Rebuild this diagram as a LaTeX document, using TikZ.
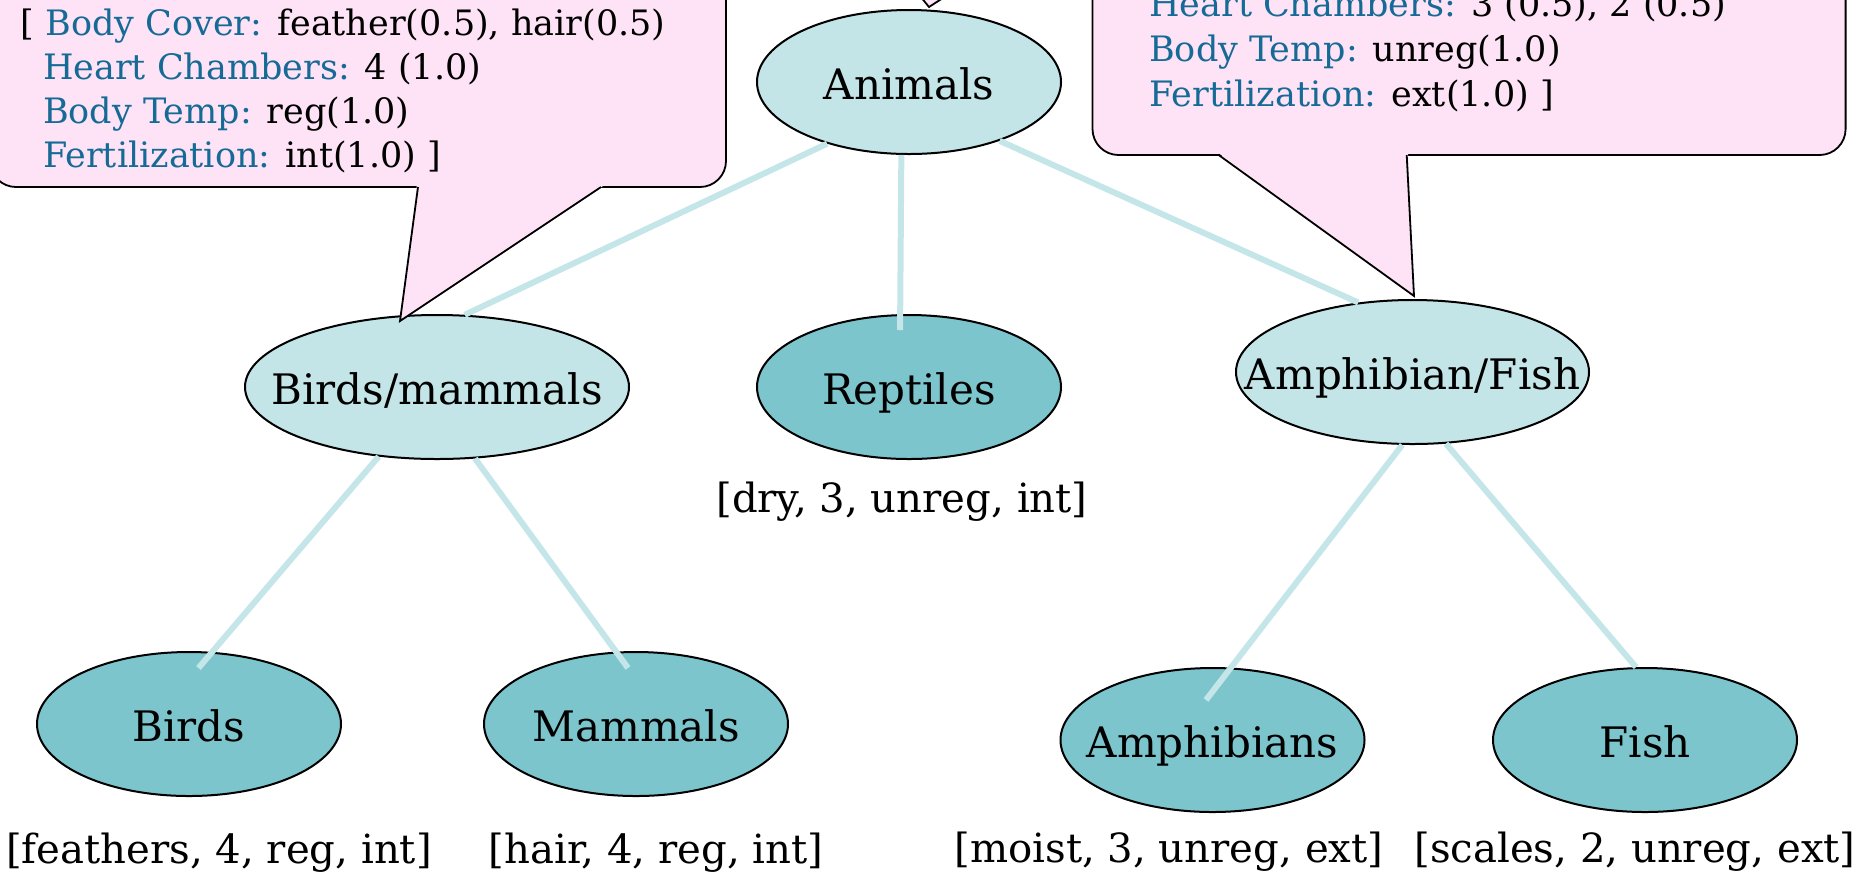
\documentclass[tikz,border=0pt]{standalone}
\usepackage{fontspec}
\setmainfont{DejaVu Serif}
\usetikzlibrary{shapes.geometric,calc}
\definecolor{nodelight}{RGB}{196,229,232}
\definecolor{nodedark}{RGB}{124,197,204}
\definecolor{edgecol}{RGB}{196,230,232}
\definecolor{calloutpink}{RGB}{253,227,245}
\definecolor{keyblue}{RGB}{22,106,150}
\newcommand{\keyt}[1]{\textcolor{keyblue}{#1}}
\begin{document}
\begin{tikzpicture}[x=0.5pt,y=-0.5pt,
  ellbase/.style={ellipse, draw=black, line width=1pt, inner sep=0pt, minimum height=72pt},
  innerell/.style={ellbase, fill=nodelight},
  leafell/.style={ellbase, fill=nodedark},
  nodetext/.style={anchor=base, inner sep=0pt, font=\fontsize{21}{25}\selectfont},
  attr/.style={anchor=base, inner sep=0pt, font=\fontsize{20.1}{24}\selectfont},
  ctext/.style={anchor=base west, inner sep=0pt, font=\fontsize{17.5}{21}\selectfont},
  edge/.style={draw=edgecol, line width=3pt},
  callout/.style={fill=calloutpink, draw=black, line width=0.9pt}
]
\useasboundingbox (0,0) rectangle (1862,875);
\clip (0,0) rectangle (1862,875);

% nodes
\node[innerell, minimum width=152pt] (anim) at (909,82) {};
\node[innerell, minimum width=192pt] (bm) at (437,387) {};
\node[leafell, minimum width=152pt] (rep) at (909,387) {};
\node[innerell, minimum width=176.5pt] (af) at (1412.5,372) {};
\node[leafell, minimum width=152pt] (birds) at (189,724) {};
\node[leafell, minimum width=152pt] (mam) at (636,724) {};
\node[leafell, minimum width=152pt] (amph) at (1212.5,740) {};
\node[leafell, minimum width=152pt] (fish) at (1645,740) {};

% node texts
\node[nodetext] (animT) at ([yshift=-8.5pt]anim.center) {Animals};
\node[nodetext] (bmT) at ([yshift=-8.5pt]bm.center) {Birds/mammals};
\node[nodetext] (repT) at ([yshift=-8.5pt]rep.center) {Reptiles};
\node[nodetext] (afT) at ([yshift=-8.5pt]af.center) {Amphibian/Fish};
\node[nodetext] (birdsT) at ([yshift=-8.5pt]birds.center) {Birds};
\node[nodetext] (mamT) at ([yshift=-8.5pt]mam.center) {Mammals};
\node[nodetext] (amphT) at ([yshift=-8.5pt]amph.center) {Amphibians};
\node[nodetext] (fishT) at ([yshift=-8.5pt]fish.center) {Fish};

% edges
\draw[edge] (anim.217) -- (bm.69);
\draw[edge] (anim.264) -- ([yshift=-8pt]rep.97);
\draw[edge] (anim.327) -- (af.128);
\draw[edge] (bm.230) -- ($(birds.center)+(9.5,-56)$);
\draw[edge] (bm.298) -- ($(mam.center)+(-8,-56)$);
\draw[edge] (af.262) -- ($(amph.center)+(-6.5,-40)$);
\draw[edge] (af.295) -- (fish.97);

% attribute labels
\node[attr] (repA) at (902,512) {[dry, 3, unreg, int]};
\node[attr] (birdsA) at (219,863) {[feathers, 4, reg, int]};
\node[attr] (mamA) at (656,863) {[hair, 4, reg, int]};
\node[attr] (amphA) at (1169,862) {[moist, 3, unreg, ext]};
\node[attr] (fishA) at (1635,862) {[scales, 2, unreg, ext]};

% top fragment of a callout tail
\draw[callout] (920,-4) -- (929,7) -- (946,-4);

% left callout
\draw[callout, rounded corners=13pt] (-10,-80) rectangle (726,187);
\fill[calloutpink] (417,184) -- (400,321) -- (606,184) -- cycle;
\draw[black, line width=0.9pt, line join=miter] (418,187) -- (400,321) -- (601,187);
\node[ctext] (lc1) at (20.4,35) {[ \keyt{Body Cover:} feather(0.5), hair(0.5)};
\node[ctext] (lc2) at (42.7,79) {\keyt{Heart Chambers:} 4 (1.0)};
\node[ctext] (lc3) at (42.7,123) {\keyt{Body Temp:} reg(1.0)};
\node[ctext] (lc4) at (42.7,167) {\keyt{Fertilization:} int(1.0) ]};

% right callout
\draw[callout, rounded corners=13pt] (1092.5,-80) rectangle (1845.6,155);
\fill[calloutpink] (1217,152) -- (1414,296) -- (1408,152) -- cycle;
\draw[black, line width=0.9pt, line join=miter] (1218.7,155) -- (1414,296) -- (1406.7,155);
\node[ctext] (rc2) at (1148.8,16) {\keyt{Heart Chambers:} 3 (0.5), 2 (0.5)};
\node[ctext] (rc3) at (1148.8,61) {\keyt{Body Temp:} unreg(1.0)};
\node[ctext] (rc4) at (1148.8,106) {\keyt{Fertilization:} ext(1.0) ]};
\end{tikzpicture}
\end{document}
